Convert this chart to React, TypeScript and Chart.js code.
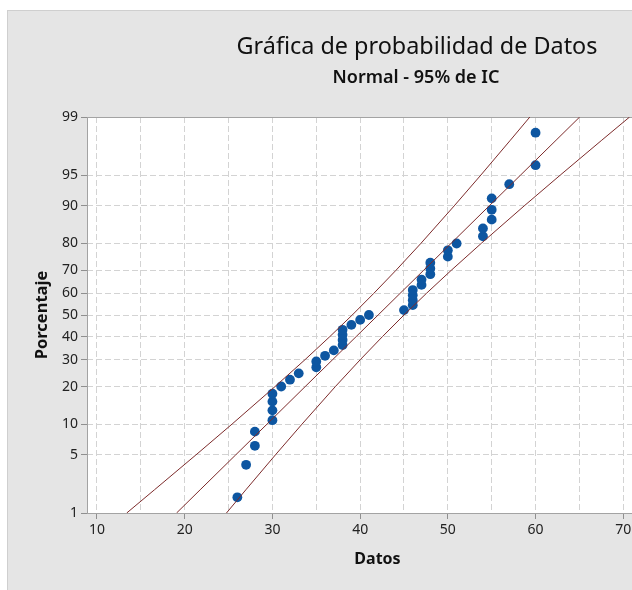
import React, { useEffect, useRef } from "react";
import { Chart, registerables } from "chart.js";

Chart.register(...registerables);

const datos = [26, 27, 28, 28, 30, 30, 30, 30, 31, 32, 33, 35, 35, 36, 37, 38, 38, 38, 38, 39, 40, 41, 45, 46, 46, 46, 46, 47, 47, 48, 48, 48, 50, 50, 51, 54, 54, 55, 55, 55, 57, 60, 60];
const porcentajes = [1.61, 3.92, 6.22, 8.53, 10.83, 13.13, 15.44, 17.74, 20.05, 22.35, 24.65, 26.96, 29.26, 31.57, 33.87, 36.18, 38.48, 40.78, 43.09, 45.39, 47.7, 50.0, 52.3, 54.61, 56.91, 59.22, 61.52, 63.82, 66.13, 68.43, 70.74, 73.04, 75.35, 77.65, 79.95, 82.26, 84.56, 86.87, 89.17, 91.47, 93.78, 96.08, 98.39];

// Fitted line and 95% CI bands, read at these percentage levels
const nivelesPct = [1, 2, 5, 10, 20, 30, 40, 50, 60, 70, 80, 90, 95, 98, 99];
const ajuste = [19.07, 21.76, 25.8, 29.39, 33.73, 36.87, 39.55, 42.05, 44.55, 47.23, 50.37, 54.71, 58.3, 62.34, 65.03];
const icInferior = [13.39, 16.55, 21.27, 25.4, 30.29, 33.72, 36.55, 39.1, 41.55, 44.08, 46.93, 50.72, 53.77, 57.13, 59.35];
const icSuperior = [24.76, 26.97, 30.33, 33.38, 37.17, 40.02, 42.55, 45.0, 47.55, 50.38, 53.81, 58.7, 62.83, 67.55, 70.72];

// Axis ticks
const yTicksPct = [1, 5, 10, 20, 30, 40, 50, 60, 70, 80, 90, 95, 99];
const xGrid = [10, 15, 20, 25, 30, 35, 40, 45, 50, 55, 60, 65, 70, 75];
const xLabels = [10, 20, 30, 40, 50, 60, 70];

const TITLE = "Gráfica de probabilidad de Datos";
const SUBTITLE = "Normal - 95% de IC";
const X_TITLE = "Datos";
const Y_TITLE = "Porcentaje";

// Inverse standard normal CDF (probability-scale transform)
function probit(p: number): number {
  const a = [-3.969683028665376e1, 2.209460984245205e2, -2.759285104469687e2, 1.38357751867269e2, -3.066479806614716e1, 2.506628277459239];
  const b = [-5.447609879822406e1, 1.615858368580409e2, -1.556989798598866e2, 6.680131188771972e1, -1.328068155288572e1];
  const c = [-7.784894002430293e-3, -3.223964580411365e-1, -2.400758277161838, -2.549732539343734, 4.374664141464968, 2.938163982698783];
  const d = [7.784695709041462e-3, 3.224671290700398e-1, 2.445134137142996, 3.754408661907416];
  const plow = 0.02425;
  const phigh = 1 - plow;
  if (p < plow) {
    const q = Math.sqrt(-2 * Math.log(p));
    return (((((c[0] * q + c[1]) * q + c[2]) * q + c[3]) * q + c[4]) * q + c[5]) / ((((d[0] * q + d[1]) * q + d[2]) * q + d[3]) * q + 1);
  }
  if (p <= phigh) {
    const q = p - 0.5;
    const r = q * q;
    return ((((((a[0] * r + a[1]) * r + a[2]) * r + a[3]) * r + a[4]) * r + a[5]) * q) / (((((b[0] * r + b[1]) * r + b[2]) * r + b[3]) * r + b[4]) * r + 1);
  }
  const q = Math.sqrt(-2 * Math.log(1 - p));
  return -(((((c[0] * q + c[1]) * q + c[2]) * q + c[3]) * q + c[4]) * q + c[5]) / ((((d[0] * q + d[1]) * q + d[2]) * q + d[3]) * q + 1);
}
const zOf = (pct: number) => probit(pct / 100);

const W = 700;
const H = 590;
const FONT = "'Noto Sans', 'Open Sans', sans-serif";

const backgroundPlugin = {
  id: "mtbBackground",
  beforeDraw(chart: any) {
    const { ctx, chartArea } = chart;
    ctx.save();
    ctx.fillStyle = "#ffffff";
    ctx.fillRect(0, 0, W, H);
    ctx.fillStyle = "#e5e5e5";
    ctx.fillRect(7, 10, W - 7, H - 10);
    ctx.strokeStyle = "#cfcfcf";
    ctx.lineWidth = 1;
    ctx.strokeRect(7.5, 10.5, W, H);
    ctx.fillStyle = "#ffffff";
    ctx.fillRect(chartArea.left, chartArea.top, chartArea.right - chartArea.left, chartArea.bottom - chartArea.top);
    ctx.restore();
  },
  beforeDatasetsDraw(chart: any) {
    const { ctx, chartArea } = chart;
    ctx.save();
    ctx.strokeStyle = "#a3a3a3";
    ctx.lineWidth = 1;
    ctx.setLineDash([]);
    ctx.strokeRect(chartArea.left + 0.5, chartArea.top + 0.5, chartArea.right - chartArea.left - 1, chartArea.bottom - chartArea.top);
    ctx.restore();
  },
  afterDraw(chart: any) {
    const { ctx } = chart;
    ctx.save();
    ctx.fillStyle = "#111111";
    ctx.textAlign = "center";
    ctx.textBaseline = "middle";
    ctx.font = `400 23.4px ${FONT}`;
    ctx.fillText(TITLE, 417, 47);
    ctx.font = `600 18px ${FONT}`;
    ctx.fillText(SUBTITLE, 416, 78);
    ctx.restore();
  },
};

export default function App() {
  const canvasRef = useRef<HTMLCanvasElement | null>(null);

  useEffect(() => {
    const canvas = canvasRef.current;
    if (!canvas) return;

    const puntos = datos.map((x, i) => ({ x, y: zOf(porcentajes[i]) }));
    const linea = (arr: number[]) => arr.map((x, i) => ({ x, y: zOf(nivelesPct[i]) }));
    const lineColor = "#7d2b2b";
    const yTickZ = yTicksPct.map(zOf);

    const chart = new Chart(canvas, {
      type: "scatter",
      data: {
        datasets: [
          { type: "line", data: linea(icInferior), borderColor: lineColor, borderWidth: 1, pointRadius: 0, fill: false, tension: 0 },
          { type: "line", data: linea(ajuste), borderColor: lineColor, borderWidth: 1, pointRadius: 0, fill: false, tension: 0 },
          { type: "line", data: linea(icSuperior), borderColor: lineColor, borderWidth: 1, pointRadius: 0, fill: false, tension: 0 },
          {
            type: "scatter",
            data: puntos,
            backgroundColor: "#0d56a1",
            borderColor: "#0d56a1",
            pointRadius: 4.9,
            pointBorderWidth: 0,
          },
        ],
      } as any,
      options: {
        animation: false,
        responsive: false,
        devicePixelRatio: 1,
        layout: { padding: { left: 7, top: 117, right: 32, bottom: 0 } },
        plugins: {
          legend: { display: false },
          tooltip: { enabled: false },
          title: { display: false },
        },
        scales: {
          x: {
            type: "linear",
            min: 8.86,
            max: 75.1,
            afterBuildTicks: (s: any) => {
              s.ticks = xGrid.map((v) => ({ value: v }));
            },
            afterFit: (s: any) => {
              s.height = 77;
            },
            border: { display: false, dash: [6, 3] },
            grid: {
              color: "#d3d3d3",
              lineWidth: 1,
              tickLength: 6,
              tickBorderDash: [],
              tickColor: (ctx: any) => (ctx.tick && xLabels.includes(ctx.tick.value) ? "#8f8f8f" : "rgba(0,0,0,0)"),
            },
            ticks: {
              autoSkip: false,
              maxRotation: 0,
              padding: 3,
              color: "#222222",
              font: { family: FONT, size: 14 },
              callback: (v: any) => (xLabels.includes(Number(v)) ? String(v) : ""),
            },
            title: {
              display: true,
              text: X_TITLE,
              color: "#111111",
              font: { family: FONT, size: 16, weight: "bold" },
              padding: { top: 0, bottom: 21 },
            },
          },
          y: {
            type: "linear",
            min: zOf(1),
            max: zOf(99),
            afterBuildTicks: (s: any) => {
              s.ticks = yTickZ.map((v) => ({ value: v }));
            },
            afterFit: (s: any) => {
              s.width = 80;
            },
            border: { display: false, dash: [6, 3] },
            grid: {
              color: "#d3d3d3",
              lineWidth: 1,
              tickLength: 6,
              tickBorderDash: [],
              tickColor: "#8f8f8f",
            },
            ticks: {
              autoSkip: false,
              padding: 3,
              color: "#222222",
              font: { family: FONT, size: 14 },
              callback: (v: any) => {
                const i = yTickZ.findIndex((z) => Math.abs(z - Number(v)) < 1e-6);
                return i >= 0 ? String(yTicksPct[i]) : "";
              },
            },
            title: {
              display: true,
              text: Y_TITLE,
              color: "#111111",
              font: { family: FONT, size: 16.5, weight: "bold" },
              padding: { top: 25, bottom: 0 },
            },
          },
        },
      },
      plugins: [backgroundPlugin],
    });

    return () => {
      chart.destroy();
    };
  }, []);

  return (
    <div style={{ position: "absolute", left: 0, top: 0, width: 632, height: 590, overflow: "hidden" }}>
      <canvas ref={canvasRef} width={W} height={H} style={{ width: W, height: H, display: "block" }} />
    </div>
  );
}
